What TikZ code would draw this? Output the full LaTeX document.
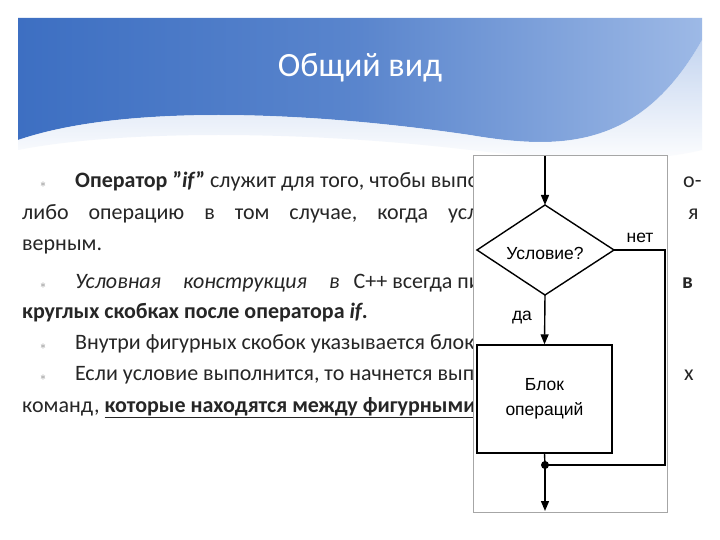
\documentclass[tikz,border=0pt]{standalone}
\usepackage{fontspec}
\setmainfont{Carlito}
\newfontfamily\fc{Liberation Sans}
\usetikzlibrary{arrows.meta}
\definecolor{txt}{HTML}{262626}
\definecolor{bluea}{HTML}{3D6FC2}
\definecolor{blueb}{HTML}{9DB9E6}
\begin{document}
\begin{tikzpicture}[x=1pt,y=-1pt,
  ln/.style={anchor=base west,inner sep=0,font=\fontsize{22}{24}\selectfont,text=txt},
  bul/.style={anchor=base west,inner sep=0,font=\fontsize{13}{14}\selectfont,text=gray},
  fl/.style={line width=1.4pt,black},
  arr/.style={fl,-{Triangle[length=10pt,width=8pt]}},
  lab/.style={font=\fc\fontsize{17.5}{19}\selectfont,inner sep=0}]
\useasboundingbox (0,0) rectangle (720,540);
\fill[white] (0,0) rectangle (720,540);
% banner
\shade[left color=bluea,right color=blueb,middle color=bluea!70!blueb]
 (18,18) -- (702,18) -- (702,40) .. controls (640,150) and (560,150) .. (470,135)
 .. controls (300,110) and (120,105) .. (18,140) -- cycle;
\shade[top color=blueb,bottom color=white,opacity=0.6]
 (18,140) .. controls (120,105) and (300,110) .. (470,135) .. controls (560,150) and (640,150) .. (702,40)
 -- (702,150) .. controls (640,165) and (560,160) .. (470,150) .. controls (300,130) and (120,130) .. (18,150) -- cycle;
\node[font=\fontsize{34}{38}\selectfont,text=white] (title) at (360,68) {Общий вид};
% text
\node[bul] (b1) at (40,188) {$\ast$};
\node[ln] (l1) at (75,188) {\textbf{Оператор ”\textit{if}”} служит для того, чтобы выполнить};
\node[ln] (r1) at (683,188) {о-};
\node[ln] (l2) at (22,220) {либо \hspace{10pt} операцию \hspace{10pt} в \hspace{10pt} том \hspace{10pt} случае, \hspace{10pt} когда \hspace{10pt} условие};
\node[ln] (r2) at (688,220) {я};
\node[ln] (l3) at (22,250) {верным.};
\node[bul] (b2) at (40,288) {$\ast$};
\node[ln] (l4) at (75,288) {\textit{Условная \hspace{12pt} конструкция \hspace{12pt} в} \hspace{4pt} С++ всегда пишется};
\node[ln] (r4) at (682,288) {\textbf{в}};
\node[ln] (l5) at (22,318) {\textbf{круглых скобках после оператора \textit{if}.}};
\node[bul] (b3) at (40,349) {$\ast$};
\node[ln] (l6) at (75,349) {Внутри фигурных скобок указывается блок};
\node[bul] (b4) at (40,380) {$\ast$};
\node[ln] (l7) at (75,380) {Если условие выполнится, то начнется выполнение};
\node[ln] (r7) at (684,380) {х};
\node[ln] (l8) at (22,412) {команд, \underline{\textbf{которые находятся между фигурными}}};
% picture
\filldraw[fill=white,draw=gray!70,line width=0.6pt] (473,155) rectangle (667,512);
\coordinate (top) at (545,156);
\coordinate (bot) at (545,511);
\draw[fl,fill=white] (477,250) -- (545,205) -- (614,250) -- (545,295) -- cycle;
\coordinate (dT) at (545,205); \coordinate (dB) at (545,295); \coordinate (dR) at (614,250);
\node[lab] (cond) at (545,253) {Условие?};
\node[draw,fl,minimum width=135pt,minimum height=108pt,inner sep=0,
  font=\fc\fontsize{17.5}{19}\selectfont,align=center] (blk) at (544.5,399)
 {Блок\\[6pt]операций};
\coordinate (dot) at (545,465);
\coordinate (c1) at (665,250); \coordinate (c2) at (665,465);
\draw[arr] (top) -- (dT);
\draw[arr] (dB) -- (blk.north);
\draw[fl] (dR) -- (c1) -- (c2) -- (dot);
\draw[fl] (blk.south) -- (dot);
\draw[arr] (dot) -- (bot);
\fill (dot) circle (4pt);
\node[lab] (net) at (640,238) {нет};
\node[lab] (da) at (522,318) {да};
\end{tikzpicture}
\end{document}
